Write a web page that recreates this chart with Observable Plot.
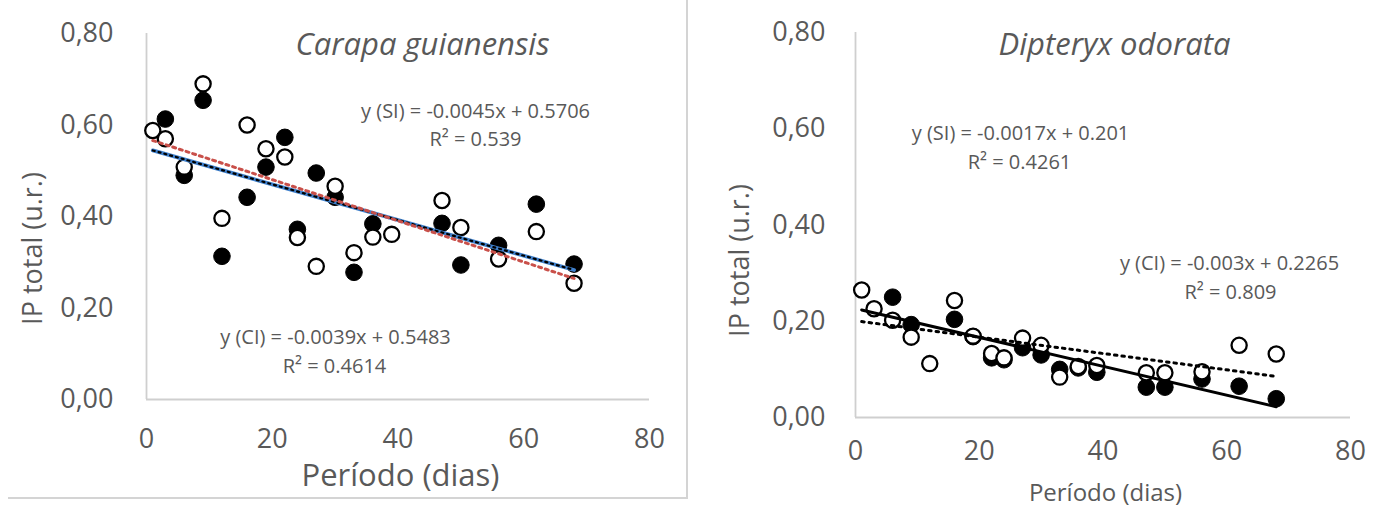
<!DOCTYPE html>
<html><head><meta charset="utf-8">
<script src="https://cdn.jsdelivr.net/npm/d3@7"></script>
<script src="https://cdn.jsdelivr.net/npm/@observablehq/plot@0.6"></script>
<style>
body{margin:0;background:#fff;width:1381px;height:506px;overflow:hidden;position:relative;font-family:"Open Sans",sans-serif}
#left{position:absolute;left:0;top:0}
#right{position:absolute;left:690px;top:0}
#border{position:absolute;left:8px;top:-2px;width:678px;height:499px;border-right:2px solid #d4d4d4;border-bottom:2px solid #d4d4d4}
</style></head><body>
<div id="border"></div><div id="left"></div><div id="right"></div>
<script>
// ---- data ----
const xTicks = [0, 20, 40, 60, 80];
const yTicks = [0, 0.2, 0.4, 0.6, 0.8];
const titles = ["Carapa guianensis", "Dipteryx odorata"];
const xTitle = "Período (dias)";
const yTitle = "IP total (u.r.)";

// Carapa guianensis
const cgDaysSI = [1, 3, 6, 9, 12, 16, 19, 22, 24, 27, 30, 33, 36, 39, 47, 50, 56, 62, 68];
const cgSI = [0.588, 0.570, 0.508, 0.690, 0.396, 0.600, 0.548, 0.530, 0.354, 0.291, 0.466, 0.321, 0.355, 0.361, 0.435, 0.376, 0.307, 0.367, 0.254];
const cgDaysCI = [3, 6, 9, 12, 16, 19, 22, 24, 27, 30, 33, 36, 47, 50, 56, 62, 68];
const cgCI = [0.613, 0.490, 0.654, 0.313, 0.442, 0.508, 0.573, 0.372, 0.495, 0.442, 0.278, 0.384, 0.385, 0.294, 0.337, 0.427, 0.296];

// Dipteryx odorata
const doDaysSI = [1, 3, 6, 9, 12, 16, 19, 22, 24, 27, 30, 33, 36, 39, 47, 50, 56, 62, 68];
const doSI = [0.265, 0.226, 0.202, 0.167, 0.112, 0.243, 0.169, 0.133, 0.124, 0.165, 0.150, 0.084, 0.106, 0.108, 0.093, 0.093, 0.095, 0.150, 0.132];
const doDaysCI = [6, 9, 16, 19, 22, 24, 27, 30, 33, 36, 39, 47, 50, 56, 62, 68];
const doCI = [0.250, 0.193, 0.204, 0.168, 0.124, 0.120, 0.145, 0.130, 0.100, 0.103, 0.094, 0.063, 0.063, 0.080, 0.065, 0.039];

// trend line coefficients [slope, intercept] and R²
const cgSlopes = [-0.0045, -0.0039];      // SI, CI
const cgIntercepts = [0.5706, 0.5483];
const cgR2 = ["0.539", "0.4614"];
const doSlopes = [-0.0017, -0.003];       // SI, CI
const doIntercepts = [0.201, 0.2265];
const doR2 = ["0.4261", "0.809"];
const trendDays = [1, 68];

// ---- helpers ----
const fmtY = d => d.toFixed(2).replace(".", ",");
const zip = (xs, ys) => xs.map((x, i) => ({x, y: ys[i]}));
const trend = (m, b) => trendDays.map(x => ({x, y: m * x + b}));
const eqLabel = (tag, m, b) => `y (${tag}) = ${m}x + ${b}`;
const FONT = "'Open Sans', sans-serif";
const GRAY = "#595959";
const AXIS = "#cfcfcf";

function panel({title, si, ci, slopes, intercepts, r2, width, marginLeft, marginRight, marginTop, marginBottom,
                titlePos, yTitlePos, xTitlePos, xTitleSize, eqSI, eqCI, trendMarks, ytPad, xtPad}) {
  const txt = (str, pos, extra = {}) => Plot.text([str], {
    frameAnchor: "top-left", dx: pos[0], dy: pos[1], text: d => d,
    textAnchor: "middle", lineAnchor: "middle", fontSize: 20, fill: GRAY, fontFamily: FONT, ...extra
  });
  return Plot.plot({
    width, height: 506, marginLeft, marginRight, marginTop, marginBottom,
    style: {fontFamily: FONT, color: GRAY, background: "transparent", overflow: "visible"},
    x: {domain: [0, 80], ticks: xTicks},
    y: {domain: [0, 0.8], ticks: yTicks},
    marks: [
      Plot.ruleY([0], {stroke: AXIS, strokeWidth: 1.8}),
      Plot.ruleX([0], {stroke: AXIS, strokeWidth: 1.8}),
      Plot.axisX({ticks: xTicks, tickSize: 0, tickPadding: xtPad, fontSize: 27, label: null, fill: GRAY}),
      Plot.axisY({ticks: yTicks, tickSize: 0, tickPadding: ytPad, fontSize: 27, label: null, tickFormat: fmtY, fill: GRAY}),
      Plot.dot(zip(ci.days, ci.vals), {x: "x", y: "y", r: 8.3, fill: "black", stroke: "black", strokeWidth: 1}),
      Plot.dot(zip(si.days, si.vals), {x: "x", y: "y", r: 7.6, fill: "white", stroke: "black", strokeWidth: 2.3}),
      ...trendMarks(trend(slopes[0], intercepts[0]), trend(slopes[1], intercepts[1])),
      txt(title, titlePos, {fontSize: 31, fontStyle: "italic"}),
      txt(yTitle, yTitlePos, {fontSize: 27, rotate: -90}),
      txt(xTitle, xTitlePos, {fontSize: xTitleSize}),
      txt(eqLabel("SI", slopes[0], intercepts[0]), eqSI[0]),
      txt(`R² = ${r2[0]}`, eqSI[1]),
      txt(eqLabel("CI", slopes[1], intercepts[1]), eqCI[0]),
      txt(`R² = ${r2[1]}`, eqCI[1])
    ]
  });
}

const left = panel({
  title: titles[0],
  si: {days: cgDaysSI, vals: cgSI}, ci: {days: cgDaysCI, vals: cgCI},
  slopes: cgSlopes, intercepts: cgIntercepts, r2: cgR2,
  width: 690, marginLeft: 146, marginRight: 41, marginTop: 33, marginBottom: 107,
  titlePos: [276, 12], yTitlePos: [-113, 215], xTitlePos: [254, 443], xTitleSize: 31,
  eqSI: [[329, 78], [329, 106]], eqCI: [[189, 304], [188, 333]],
  ytPad: 33, xtPad: 29,
  trendMarks: (si, ci) => [
    Plot.line(ci, {x: "x", y: "y", stroke: "#3f80cc", strokeWidth: 3.8}),
    Plot.line(ci, {x: "x", y: "y", stroke: "black", strokeWidth: 2.2, strokeDasharray: "2,4"}),
    Plot.line(si, {x: "x", y: "y", stroke: "#c9504a", strokeWidth: 3, strokeDasharray: "3,4"})
  ]
});

const right = panel({
  title: titles[1],
  si: {days: doDaysSI, vals: doSI}, ci: {days: doDaysCI, vals: doCI},
  slopes: doSlopes, intercepts: doIntercepts, r2: doR2,
  width: 691, marginLeft: 165, marginRight: 31, marginTop: 32, marginBottom: 89,
  titlePos: [259, 13], yTitlePos: [-115, 228], xTitlePos: [250, 461], xTitleSize: 24,
  eqSI: [[165, 101], [164, 130]], eqCI: [[374, 231], [375, 260]],
  ytPad: 30, xtPad: 23,
  trendMarks: (si, ci) => [
    Plot.line(ci, {x: "x", y: "y", stroke: "black", strokeWidth: 3}),
    Plot.line(si, {x: "x", y: "y", stroke: "black", strokeWidth: 3, strokeDasharray: "2.5,5"})
  ]
});

document.getElementById("left").append(left);
document.getElementById("right").append(right);
</script>
</body></html>
